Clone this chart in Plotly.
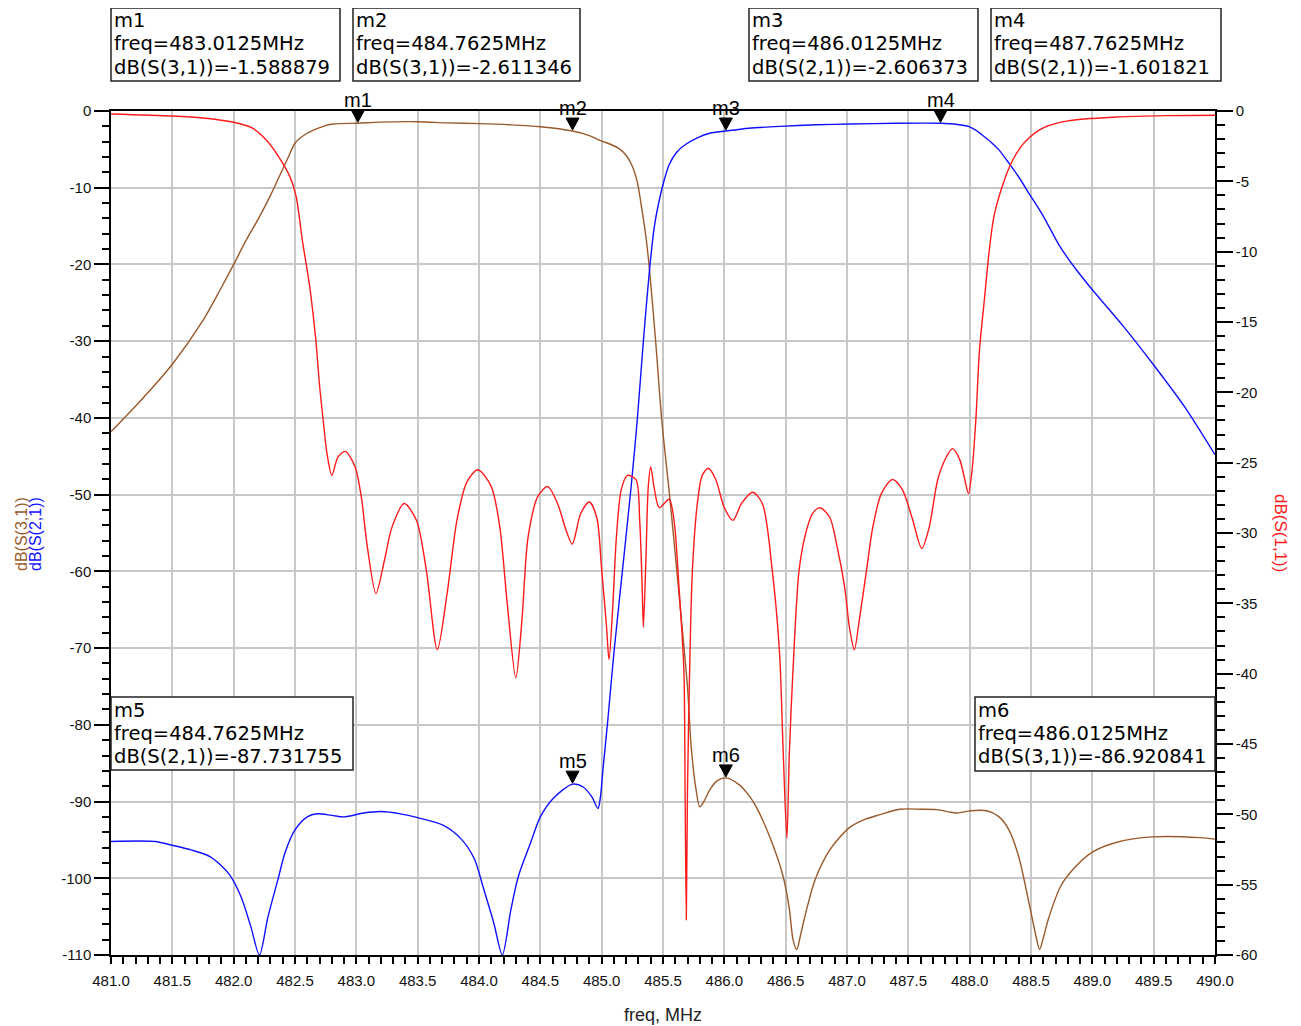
import plotly.graph_objects as go

# ---------------- data ----------------
freq_s31 = [481.0, 481.25, 481.5, 481.75, 481.89, 482.0, 482.1, 482.21, 482.3, 482.37, 482.44, 482.5,
            482.57, 482.65, 482.73, 482.81, 483.0125, 483.19, 483.5, 483.73, 484.0, 484.25, 484.5,
            484.7625, 484.9, 484.98, 485.08, 485.15, 485.2, 485.25, 485.29, 485.32, 485.36, 485.39,
            485.44, 485.49, 485.56, 485.64, 485.7, 485.73, 485.77, 485.8, 485.84, 485.88, 485.94,
            486.0125, 486.12, 486.2, 486.26, 486.37, 486.48, 486.53, 486.56, 486.59, 486.62, 486.65,
            486.74, 486.86, 487.02, 487.15, 487.27, 487.43, 487.6, 487.73, 487.85, 487.9, 488.01,
            488.14, 488.24, 488.32, 488.4, 488.49, 488.54, 488.57, 488.6, 488.64, 488.74, 488.84,
            489.0, 489.2, 489.49, 489.88, 490.0]
s31 = [-41.8, -37.6, -33.0, -27.3, -23.3, -20.0, -16.9, -13.8, -11.0, -8.6, -6.2, -4.2,
       -3.2, -2.5, -2.0, -1.7, -1.589, -1.45, -1.4, -1.55, -1.65, -1.8, -2.05,
       -2.611, -3.2, -3.8, -4.4, -5.0, -5.8, -7.2, -9.2, -12.0, -16.3, -20.7,
       -30.0, -40.3, -51.1, -64.6, -75.1, -82.9, -88.5, -90.7, -89.8, -88.5, -87.3,
       -86.92, -87.8, -89.2, -90.7, -94.6, -99.8, -104.0, -108.0, -109.3, -107.5, -105.4,
       -100.2, -96.3, -93.4, -92.3, -91.7, -91.0, -91.0, -91.05, -91.4, -91.5, -91.2,
       -91.2, -92.0, -93.7, -97.2, -103.7, -107.5, -109.3, -107.8, -105.4, -101.1, -98.9,
       -96.6, -95.3, -94.6, -94.7, -94.9]

freq_s21 = [481.0, 481.36, 481.5, 481.65, 481.81, 481.96, 482.06, 482.14, 482.21, 482.28, 482.36,
            482.42, 482.5, 482.6, 482.68, 482.8, 482.9, 483.06, 483.2, 483.36, 483.5, 483.71,
            483.85, 483.96, 484.04, 484.12, 484.19, 484.26, 484.32, 484.42, 484.5, 484.61,
            484.7625, 484.85, 484.92, 484.97, 484.99, 485.01, 485.05, 485.1, 485.17, 485.24,
            485.29, 485.34, 485.39, 485.43, 485.47, 485.51, 485.55, 485.61, 485.68, 485.78,
            485.88, 486.0125, 486.2, 486.45, 486.75, 487.02, 487.4, 487.7625, 487.9, 487.99,
            488.05, 488.1, 488.17, 488.24, 488.32, 488.4, 488.49, 488.6, 488.73, 488.86, 489.0,
            489.25, 489.5, 489.75, 490.0]
s21 = [-95.2, -95.2, -95.7, -96.3, -97.2, -99.4, -102.4, -106.3, -110.0, -105.0, -100.2,
       -96.6, -93.7, -92.0, -91.6, -91.8, -92.0, -91.5, -91.3, -91.6, -92.1, -93.1,
       -94.8, -97.4, -101.5, -105.8, -110.0, -104.1, -99.8, -95.4, -92.0, -89.5,
       -87.73, -88.1, -89.4, -90.9, -89.4, -85.9, -79.4, -70.6, -59.8, -49.0,
       -40.3, -30.0, -20.7, -15.0, -11.6, -9.0, -7.0, -5.4, -4.4, -3.5,
       -2.9, -2.606, -2.25, -2.0, -1.8, -1.7, -1.6, -1.602, -1.75, -2.0,
       -2.5, -3.1, -4.0, -5.1, -6.8, -8.6, -10.9, -13.7, -17.5, -20.5, -23.3,
       -28.0, -33.1, -38.5, -44.8]

freq_s11 = [481.0, 481.5, 481.75, 482.0, 482.15, 482.27, 482.37, 482.46, 482.51, 482.56, 482.62,
            482.67, 482.7, 482.73, 482.76, 482.8, 482.85, 482.91, 482.99, 483.04, 483.09, 483.16,
            483.23, 483.29, 483.39, 483.49, 483.57, 483.66, 483.74, 483.82, 483.9, 483.99, 484.1,
            484.17, 484.23, 484.3, 484.35, 484.4, 484.48, 484.56, 484.64, 484.71, 484.76, 484.83,
            484.9, 484.96, 485.0, 485.04, 485.06, 485.09, 485.12, 485.16, 485.21, 485.28, 485.31,
            485.33, 485.34, 485.36, 485.38, 485.4, 485.43, 485.47, 485.55, 485.59, 485.63, 485.67,
            485.68, 485.69, 485.7, 485.72, 485.74, 485.78, 485.82, 485.87, 485.93, 486.0, 486.07,
            486.14, 486.23, 486.31, 486.39, 486.45, 486.48, 486.51, 486.53, 486.56, 486.61, 486.67,
            486.72, 486.78, 486.86, 486.92, 486.98, 487.02, 487.06, 487.1, 487.16, 487.21, 487.28,
            487.37, 487.45, 487.53, 487.61, 487.67, 487.74, 487.81, 487.86, 487.92, 487.96, 487.99,
            488.02, 488.05, 488.08, 488.12, 488.16, 488.2, 488.3, 488.35, 488.45, 488.6, 488.8,
            489.2, 489.6, 490.0]
s11 = [-0.21, -0.36, -0.5, -0.8, -1.2, -2.1, -3.3, -4.7, -6.1, -9.2, -12.5,
       -16.3, -19.5, -22.0, -24.3, -25.9, -24.6, -24.2, -25.3, -27.4, -31.0, -34.3,
       -31.9, -29.6, -27.9, -29.1, -32.6, -38.3, -34.3, -29.1, -26.4, -25.5, -26.7,
       -29.6, -35.0, -40.3, -36.2, -30.3, -27.4, -26.7, -27.9, -29.8, -30.8, -28.6,
       -27.8, -28.9, -32.6, -36.7, -39.0, -35.3, -30.3, -26.9, -25.9, -26.2, -29.1,
       -33.8, -36.7, -32.1, -26.7, -25.3, -26.9, -28.2, -27.6, -29.1, -33.8, -39.7,
       -48.1, -57.5, -48.1, -38.5, -32.6, -27.9, -25.9, -25.4, -26.2, -28.2, -29.1,
       -27.9, -27.1, -27.9, -32.6, -38.5, -45.6, -51.7, -45.6, -39.7, -32.6, -29.8,
       -28.6, -28.2, -28.9, -31.0, -33.8, -36.7, -38.3, -36.2, -32.6, -29.6, -27.2,
       -26.2, -26.9, -28.9, -31.1, -29.6, -26.2, -24.6, -24.0, -24.8, -26.2, -27.2,
       -25.5, -22.0, -17.0, -13.4, -9.9, -7.4, -4.5, -3.5, -2.2, -1.2, -0.7,
       -0.43, -0.33, -0.3]

marker_names = ["m1", "m2", "m3", "m4", "m5", "m6"]
marker_freq = [483.0125, 484.7625, 486.0125, 487.7625, 484.7625, 486.0125]
marker_val = [-1.588879, -2.611346, -2.606373, -1.601821, -87.731755, -86.920841]
marker_meas = ["S(3,1)", "S(3,1)", "S(2,1)", "S(2,1)", "S(2,1)", "S(3,1)"]

left_ticks = [0, -10, -20, -30, -40, -50, -60, -70, -80, -90, -100, -110]
right_ticks = [0, -5, -10, -15, -20, -25, -30, -35, -40, -45, -50, -55, -60]

x_title = "freq, MHz"
y_title_a = "dB(S(3,1))"
y_title_b = "dB(S(2,1))"
y2_title = "dB(S(1,1))"

# ---------------- style ----------------
OFF = 8                       # page body margin of the browser
W, H = 1301 - OFF, 1026 - OFF
L, R, T, B = 111, 1215, 111, 955   # plot area in page pixels
FONT = "Arial, 'Liberation Sans', sans-serif"
BOXFONT = "'DejaVu Sans', Arial, sans-serif"
BROWN = "#9a5a2c"
BLUE = "#1010ff"
RED = "#ff1a1a"
GRID = "#c8c8c8"

def px(x):
    return (x - L) / (R - L)

def py(y):
    return (B - y) / (B - T)

box_px = [(111, 8, 340, 81), (353, 8, 580, 81), (749, 8, 978, 81),
          (991, 8, 1221, 81), (111, 697, 353, 770), (975, 697, 1215, 771)]

line_kw = dict(shape="spline", smoothing=0.8, width=1.4)
fig = go.Figure()
fig.add_trace(go.Scatter(x=freq_s31, y=s31, mode="lines", line=dict(color=BROWN, **line_kw),
                         yaxis="y", hoverinfo="skip"))
fig.add_trace(go.Scatter(x=freq_s21, y=s21, mode="lines", line=dict(color=BLUE, **line_kw),
                         yaxis="y", hoverinfo="skip"))
fig.add_trace(go.Scatter(x=freq_s11, y=s11, mode="lines", line=dict(color=RED, **line_kw),
                         yaxis="y2", hoverinfo="skip"))

shapes = []
annotations = []
for name, f, v, meas, (x0, y0, x1, y1) in zip(marker_names, marker_freq, marker_val, marker_meas, box_px):
    shapes.append(dict(type="path", xref="x", yref="y", xsizemode="pixel", ysizemode="pixel",
                       xanchor=f, yanchor=v, path="M -6.5,13 L 6.5,13 L 0,1 Z",
                       fillcolor="black", line=dict(color="black", width=1)))
    annotations.append(dict(x=f, y=v, xref="x", yref="y", text=name, showarrow=False,
                            yshift=23, font=dict(family=FONT, size=20, color="black")))
    shapes.append(dict(type="rect", xref="paper", yref="paper", x0=px(x0), x1=px(x1),
                       y0=py(y0), y1=py(y1), fillcolor="white",
                       line=dict(color="#222", width=1.5), layer="above"))
    lines = [name, f"freq={f:.4f}MHz", f"dB({meas})={v:.6f}"]
    for i, t in enumerate(lines):
        annotations.append(dict(x=px(x0 + 2), y=py(y0 + 13 + 23 * i), xref="paper", yref="paper",
                                xanchor="left", yanchor="middle", text=t, showarrow=False,
                                borderpad=0,
                                font=dict(family=BOXFONT, size=19.5, color="black")))

annotations.append(dict(x=0.5, y=py(1015), xref="paper", yref="paper", text=x_title,
                        xanchor="center", yanchor="middle",
                        showarrow=False, font=dict(family=FONT, size=18, color="#222")))
annotations.append(dict(x=px(21), y=py(534), xref="paper", yref="paper", text=y_title_a,
                        xanchor="center", yanchor="middle",
                        textangle=-90, showarrow=False, font=dict(family=FONT, size=16, color=BROWN)))
annotations.append(dict(x=px(35), y=py(534), xref="paper", yref="paper", text=y_title_b,
                        xanchor="center", yanchor="middle",
                        textangle=-90, showarrow=False, font=dict(family=FONT, size=16, color=BLUE)))
annotations.append(dict(x=px(1281), y=py(533), xref="paper", yref="paper", text=y2_title,
                        xanchor="center", yanchor="middle",
                        textangle=90, showarrow=False, font=dict(family=FONT, size=17, color=RED)))

tickfont = dict(family=FONT, size=15, color="#111")
fig.update_layout(
    width=W, height=H,
    margin=dict(l=L - OFF, r=(W + OFF) - R, t=T - OFF, b=(H + OFF) - B, pad=0),
    paper_bgcolor="white", plot_bgcolor="white",
    showlegend=False,
    xaxis=dict(range=[481, 490], tick0=481, dtick=0.5, tickformat=".1f",
               showgrid=True, gridcolor=GRID, gridwidth=1.8, zeroline=False,
               showline=True, linecolor="black", linewidth=1.5, mirror=True,
               ticks="outside", ticklen=7, tickwidth=1.5, tickcolor="black",
               ticklabelstandoff=4, tickfont=tickfont,
               minor=dict(tickmode="linear", tick0=481, dtick=0.1, ticks="outside", ticklen=7,
                          tickwidth=1.5, tickcolor="black", showgrid=False)),
    yaxis=dict(range=[-110, 0], tickmode="array", tickvals=left_ticks,
               ticktext=[str(v) for v in left_ticks],
               showgrid=True, gridcolor=GRID, gridwidth=1.8, zeroline=False,
               showline=True, linecolor="black", linewidth=1.5,
               ticks="outside", ticklen=15, tickwidth=1.5, tickcolor="black",
               tickfont=tickfont,
               minor=dict(tickmode="linear", tick0=0, dtick=2, ticks="outside", ticklen=7,
                          tickwidth=1.5, tickcolor="black", showgrid=False)),
    yaxis2=dict(range=[-60, 0], tickmode="array", tickvals=right_ticks,
                ticktext=[str(v) for v in right_ticks], overlaying="y", side="right",
                showgrid=False, zeroline=False,
                showline=True, linecolor="black", linewidth=1.5,
                ticks="outside", ticklen=16, tickwidth=1.5, tickcolor="black",
                tickfont=tickfont,
                minor=dict(tickmode="linear", tick0=0, dtick=1, ticks="outside", ticklen=8,
                           tickwidth=1.5, tickcolor="black", showgrid=False)),
    shapes=shapes,
    annotations=annotations,
)

fig.write_html("out.html")
